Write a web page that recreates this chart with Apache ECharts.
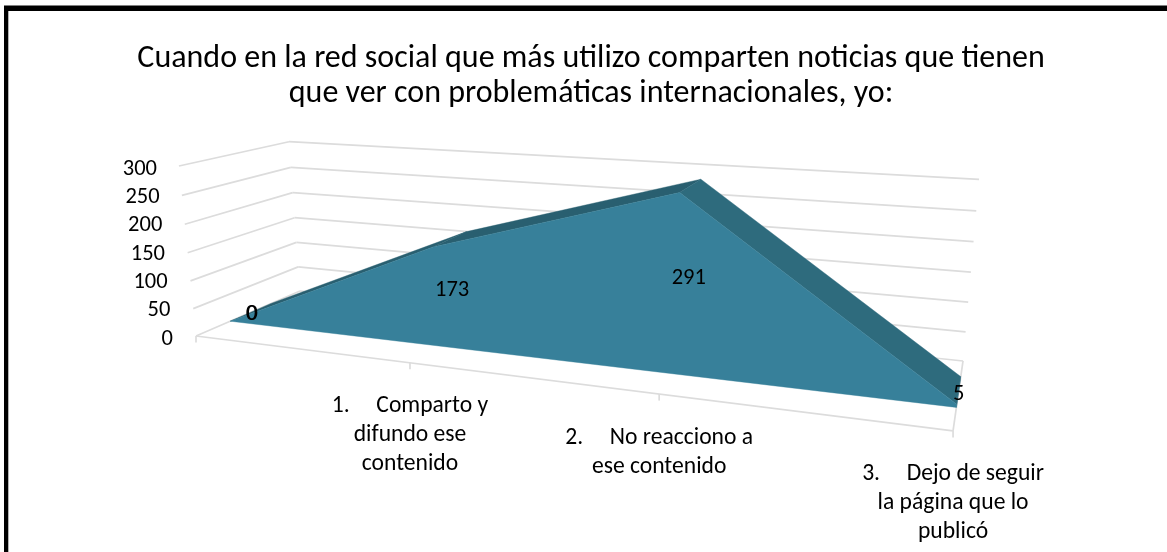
<!DOCTYPE html>
<html>
<head>
<meta charset="utf-8">
<style>html,body{margin:0;padding:0;background:#fff}#c{width:1167px;height:552px}</style>
<script src="https://cdn.jsdelivr.net/npm/echarts@6/dist/echarts.min.js"></script>
</head>
<body>
<div id="c"></div>
<script>
const titleText = 'Cuando en la red social que más utilizo comparten noticias que tienen\nque ver con problemáticas internacionales, yo:';
const categories = ['', '1.     Comparto y\ndifundo ese\ncontenido', '2.     No reacciono a\nese contenido', '3.     Dejo de seguir\nla página que lo\npublicó'];
const values = [0, 173, 291, 5];
const yTicks = [0, 50, 100, 150, 200, 250, 300];

const FONT = 'Carlito, Lato, sans-serif';

// Camera of the 3D plot: u across the categories, v into the depth, w up the value axis
const cam = { a: 555, b: 147.5, c: 196, d: 3.6, e: -2.8, f: 336, g: -0.212, h: 0.145, p: -24.2, q: -176.6, r: -0.04 };
function project(u, v, w) {
  const den = 1 + cam.g * u + cam.h * v + cam.r * w;
  return [(cam.a * u + cam.b * v + cam.c + cam.p * w) / den,
          (cam.d * u + cam.e * v + cam.f + cam.q * w) / den];
}
const V_FRONT = 0.3, V_BACK = 0.7;

// Library scale -> normalised plot position
function norm(api, params, i, val) {
  const pt = api.coord([i, val]);
  const cs = params.coordSys;
  return [(pt[0] - cs.x) / cs.width, 1 - (pt[1] - cs.y) / cs.height];
}
function seg(a, b, stroke, width) {
  return { type: 'line', shape: { x1: a[0], y1: a[1], x2: b[0], y2: b[1] }, style: { stroke: stroke, lineWidth: width } };
}
function poly(points, fill) {
  return { type: 'polygon', shape: { points: points }, style: { fill: fill, stroke: fill, lineWidth: 0.4 } };
}

const GRID = '#DCDCDC';
const GRID_W = 1.7;
const FRONT = '#37809A';
const TOP_UP = '#295F70';
const TOP_DOWN = '#2E6B7D';

const option = {
  animation: false,
  backgroundColor: '#fff',
  title: {
    text: titleText,
    left: 586, top: 36, textAlign: 'center',
    textStyle: { fontFamily: FONT, fontSize: 32, fontWeight: 'normal', color: '#000', lineHeight: 35 }
  },
  graphic: [
    { type: 'rect', shape: { x: 4, y: 6, width: 4.3, height: 546 }, style: { fill: '#000' }, silent: true },
    { type: 'rect', shape: { x: 4, y: 5.6, width: 1163, height: 5.4 }, style: { fill: '#000' }, silent: true }
  ],
  grid: { left: 178, right: 100, top: 169, bottom: 213 },
  xAxis: { type: 'category', data: categories, boundaryGap: false, show: false },
  yAxis: {
    type: 'value', min: 0, max: 300, interval: 50,
    axisLine: { show: false }, axisTick: { show: false }, splitLine: { show: false },
    axisLabel: {
      margin: 5,
      formatter: v => '{t' + v + '|' + v + '}',
      rich: Object.fromEntries(yTicks.map(t => ['t' + t, {
        fontFamily: FONT, fontSize: 22.5, color: '#000',
        padding: [0, t / 300 * 16, 0, 0]
      }]))
    }
  },
  series: [
    { // walls, floor and ticks
      type: 'custom', data: yTicks.map(t => [0, t]), z: 1, silent: true,
      renderItem(params, api) {
        const w = norm(api, params, 0, api.value(1))[1];
        const ch = [
          seg(project(0, 0, w), project(0, 1, w), GRID, GRID_W),
          seg(project(0, 1, w), project(1, 1, w), GRID, GRID_W)
        ];
        if (params.dataIndex === 0) {
          ch.push(seg(project(0, 0, 0), project(1, 0, 0), GRID, GRID_W));
          ch.push(seg(project(1, 0, 0), project(1, 1, 0), GRID, GRID_W));
          categories.forEach((c, i) => {
            const u = norm(api, params, i, 0)[0];
            const b = project(u, 0, 0);
            ch.push(seg(b, [b[0], b[1] + 6.5], GRID, GRID_W));
          });
        }
        return { type: 'group', children: ch };
      }
    },
    { // area: top faces, then front face
      type: 'custom', data: values.map((v, i) => [i, v]), z: 2, silent: true,
      renderItem(params, api) {
        const i = params.dataIndex;
        if (i !== values.length - 1) return null;
        const pts = values.map((v, k) => norm(api, params, k, v));
        const ch = [];
        for (let k = 0; k < pts.length - 1; k++) {
          const [u0, w0] = pts[k], [u1, w1] = pts[k + 1];
          ch.push(poly([project(u0, V_BACK, w0), project(u1, V_BACK, w1), project(u1, V_FRONT, w1), project(u0, V_FRONT, w0)],
            w1 >= w0 ? TOP_UP : TOP_DOWN));
        }
        const last = pts[pts.length - 1];
        ch.push(poly([project(last[0], V_BACK, last[1]), project(last[0], V_BACK, 0), project(last[0], V_FRONT, 0), project(last[0], V_FRONT, last[1])], TOP_DOWN));
        const front = pts.map(p => project(p[0], V_FRONT, p[1]));
        front.push(project(last[0], V_FRONT, 0), project(pts[0][0], V_FRONT, 0));
        ch.push(poly(front, FRONT));
        return { type: 'group', children: ch };
      }
    },
    { // data labels and category labels
      type: 'custom', data: values.map((v, i) => [i, v]), z: 3, silent: true,
      renderItem(params, api) {
        const i = params.dataIndex, v = api.value(1);
        const [u, w] = norm(api, params, i, v);
        const at = project(u, 0.5, w / 2);
        const ch = [];
        const label = (dx) => ({
          type: 'text',
          style: { text: String(v), x: at[0] + dx, y: at[1] + 2.5, align: 'center', verticalAlign: 'middle',
                   font: '22.5px ' + FONT, fill: '#000' }
        });
        ch.push(label(0));
        if (v === 0) ch.push(label(0.7));
        if (categories[i]) {
          const b = project(u, 0, 0);
          ch.push({
            type: 'text',
            style: { text: categories[i], x: b[0], y: b[1] + 29, align: 'center', verticalAlign: 'top',
                     font: '23.6px ' + FONT, lineHeight: 29, fill: '#000' }
          });
        }
        return { type: 'group', children: ch };
      }
    }
  ]
};
const chart = echarts.init(document.getElementById('c'), null, { renderer: 'canvas' });
chart.setOption(option);
</script>
</body>
</html>
